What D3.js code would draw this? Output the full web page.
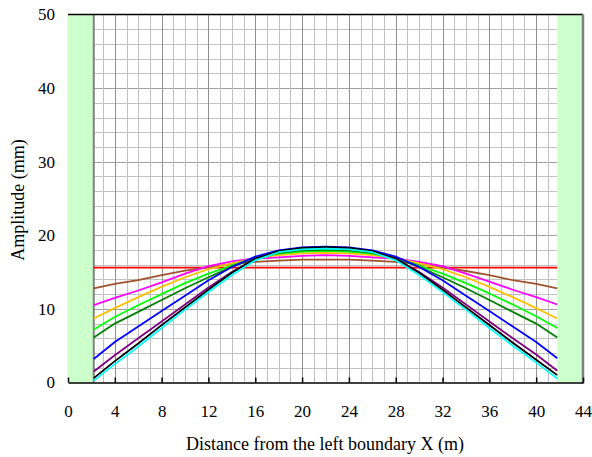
<!DOCTYPE html>
<html>
<head>
<meta charset="utf-8">
<script src="https://cdn.jsdelivr.net/npm/d3@7"></script>
<style>
body { margin: 0; background: #fff; }
text { font-family: "Liberation Serif", "Times New Roman", serif; fill: #000; }
</style>
</head>
<body>
<div class="chart"></div>
<script>
var xTicks = [0, 4, 8, 12, 16, 20, 24, 28, 32, 36, 40, 44];
var yTicks = [0, 10, 20, 30, 40, 50];
var xs = [2.2, 4, 6, 8, 10, 12, 14, 16, 18, 20, 22, 24, 26, 28, 30, 32, 34, 36, 38, 40, 41.8];

var red     = [15.6, 15.6, 15.6, 15.6, 15.6, 15.6, 15.6, 15.6, 15.6, 15.6, 15.6, 15.6, 15.6, 15.6, 15.6, 15.6, 15.6, 15.6, 15.6, 15.6, 15.6];
var brown   = [12.8, 13.4, 13.9, 14.6, 15.2, 15.65, 16.1, 16.4, 16.55, 16.7, 16.7, 16.7, 16.55, 16.4, 16.1, 15.6, 15.15, 14.6, 13.9, 13.4, 12.8];
var magenta = [10.5, 11.5, 12.5, 13.6, 14.8, 15.8, 16.45, 16.85, 17.0, 17.2, 17.3, 17.2, 17.0, 16.85, 16.4, 15.8, 14.8, 13.7, 12.6, 11.6, 10.6];
var orange  = [8.7, 10.1, 11.6, 13.0, 14.3, 15.4, 16.2, 16.9, 17.3, 17.55, 17.6, 17.55, 17.3, 16.9, 16.2, 15.4, 14.3, 13.0, 11.6, 10.1, 8.7];
var lime    = [7.2, 8.9, 10.5, 12.0, 13.5, 14.8, 15.9, 16.9, 17.5, 17.8, 17.9, 17.8, 17.5, 16.9, 15.9, 14.8, 13.5, 12.1, 10.6, 9.0, 7.4];
var dkgreen = [6.1, 8.0, 9.6, 11.2, 12.8, 14.3, 15.7, 16.9, 17.6, 17.95, 18.05, 17.95, 17.6, 16.9, 15.7, 14.3, 12.8, 11.2, 9.6, 8.0, 6.1];
var blue    = [3.2, 5.5, 7.6, 9.7, 11.8, 13.9, 15.7, 17.1, 17.95, 18.35, 18.45, 18.35, 17.95, 17.1, 15.7, 13.9, 11.8, 9.7, 7.6, 5.5, 3.3];
var purple  = [1.5, 3.7, 6.0, 8.3, 10.6, 12.9, 15.0, 16.8, 17.8, 18.2, 18.3, 18.2, 17.8, 16.8, 15.0, 12.9, 10.6, 8.3, 6.0, 3.8, 1.6];
var black   = [0.6, 2.9, 5.3, 7.8, 10.2, 12.6, 14.9, 16.8, 17.85, 18.3, 18.4, 18.3, 17.85, 16.8, 14.9, 12.6, 10.2, 7.8, 5.4, 3.1, 1.0];
var cyan    = [0.25, 2.5, 4.9, 7.4, 9.9, 12.3, 14.6, 16.6, 17.7, 18.1, 18.2, 18.1, 17.7, 16.6, 14.6, 12.3, 9.9, 7.4, 5.0, 2.7, 0.55];

var series = [
	{ v: red, c: "#ff0000" },
	{ v: brown, c: "#a0522d" },
	{ v: magenta, c: "#ff00ff" },
	{ v: orange, c: "#ffc000" },
	{ v: lime, c: "#00ff00" },
	{ v: dkgreen, c: "#008000" },
	{ v: blue, c: "#0000ff" },
	{ v: purple, c: "#800080" },
	{ v: black, c: "#000000" },
	{ v: cyan, c: "#00ffff" }
];

var width = 592, height = 457;
var pLeft = 68, pRight = 583, pTop = 14.5, pBottom = 382.5;

var x = d3.scaleLinear().domain([0, 44]).range([pLeft, pRight]);
var y = d3.scaleLinear().domain([0, 50]).range([pBottom, pTop]);

var svg = d3.select(".chart").append("svg").attr("width", width).attr("height", height);

// plot background
svg.append("rect").attr("x", pLeft).attr("y", pTop).attr("width", pRight - pLeft).attr("height", pBottom - pTop).attr("fill", "#fff");

// horizontal grid every 2
svg.append("g").selectAll("line").data(d3.range(2, 50, 2)).enter().append("line")
	.attr("x1", x(2.2)).attr("x2", x(41.8))
	.attr("y1", function(d) { return Math.round(y(d)) + 0.5; })
	.attr("y2", function(d) { return Math.round(y(d)) + 0.5; })
	.attr("stroke", function(d) { return d % 10 == 0 ? "#a0a0a0" : "#c0c0c0"; })
	.attr("stroke-width", 1);

// vertical grid every 1 m
svg.append("g").selectAll("line").data(d3.range(3, 42, 1)).enter().append("line")
	.attr("x1", function(d) { return Math.round(x(d)) + 0.5; })
	.attr("x2", function(d) { return Math.round(x(d)) + 0.5; })
	.attr("y1", pTop).attr("y2", pBottom)
	.attr("stroke", function(d) { return d % 4 == 0 ? "#909090" : "#c0c0c0"; })
	.attr("stroke-width", 1);

// green side zones
svg.append("rect").attr("x", x(0)).attr("y", pTop).attr("width", x(2.2) - x(0)).attr("height", pBottom - pTop).attr("fill", "#ccffcc");
svg.append("rect").attr("x", x(41.8)).attr("y", pTop).attr("width", x(44) - x(41.8)).attr("height", pBottom - pTop).attr("fill", "#ccffcc");
svg.append("line").attr("x1", x(2.2)).attr("x2", x(2.2)).attr("y1", pTop).attr("y2", pBottom).attr("stroke", "#808080").attr("stroke-width", 2);

// curves
var line = d3.line()
	.x(function(d, i) { return x(xs[i]); })
	.y(function(d) { return y(d); });

svg.append("g").selectAll("path").data(series).enter().append("path")
	.attr("d", function(s) { return line(s.v); })
	.attr("fill", "none")
	.attr("stroke", function(s) { return s.c; })
	.attr("stroke-width", 1.8)
	.attr("stroke-linejoin", "round");

// frame
svg.append("line").attr("x1", pLeft).attr("x2", pRight).attr("y1", pTop).attr("y2", pTop).attr("stroke", "#000").attr("stroke-width", 1.5);
svg.append("line").attr("x1", pRight).attr("x2", pRight).attr("y1", pTop).attr("y2", pBottom + 1).attr("stroke", "#808080").attr("stroke-width", 2.5);

// x axis with inside ticks
var xAxis = d3.axisBottom(x).tickValues(xTicks).tickSizeInner(-5).tickSizeOuter(0).tickFormat(d3.format("d"));
var gx = svg.append("g").attr("transform", "translate(0," + pBottom + ")").call(xAxis);
gx.select(".domain").attr("stroke", "#000").attr("stroke-width", 1.5);
gx.selectAll(".tick line").attr("stroke", "#000").attr("stroke-width", 1.5);
gx.selectAll(".tick text").attr("y", 22).attr("font-size", 17).attr("font-family", "Liberation Serif");

// y labels only
var yAxis = d3.axisLeft(y).tickValues(yTicks).tickSize(0).tickPadding(13);
var gy = svg.append("g").attr("transform", "translate(" + pLeft + ",0)").call(yAxis);
gy.select(".domain").remove();
gy.selectAll(".tick text").attr("font-size", 17).attr("font-family", "Liberation Serif");

// titles
svg.append("text").attr("x", 325).attr("y", 450).attr("text-anchor", "middle")
	.attr("font-size", 18).text("Distance from the left boundary X (m)");
svg.append("text").attr("transform", "translate(24,200) rotate(-90)").attr("text-anchor", "middle")
	.attr("font-size", 18).text("Amplitude (mm)");
</script>
</body>
</html>
